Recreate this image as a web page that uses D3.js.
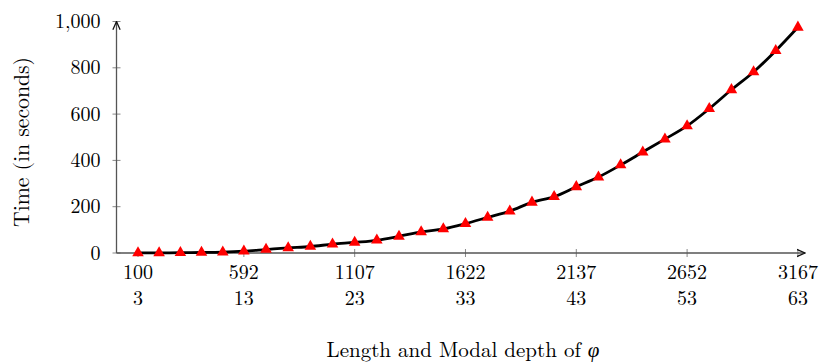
<!DOCTYPE html>
<html>
<head>
<meta charset="utf-8">
<script src="https://cdn.jsdelivr.net/npm/d3@7"></script>
<style>
  html, body { margin: 0; padding: 0; background: #fff; }
  svg { display: block; }
</style>
</head>
<body>
<svg id="chart" width="820" height="362"></svg>
<script>
// ---- data ----
const depths = [3,5,7,9,11,13,15,17,19,21,23,25,27,29,31,33,35,37,39,41,43,45,47,49,51,53,55,57,59,61,63];
const lengths = [100,198,297,395,494,592,695,798,901,1004,1107,1210,1313,1416,1519,1622,1725,1828,1931,2034,2137,2240,2343,2446,2549,2652,2755,2858,2961,3064,3167];
const times = [0.3,0.6,1.2,2.2,4,8,15,22,28,38,46,55,72,91,104,127,154,181,219,243,286,328,380,436,492,549,623,705,782,874,975];
const xTickLengths = [100,592,1107,1622,2137,2652,3167];
const xTickDepths = [3,13,23,33,43,53,63];
const yTicks = [0,200,400,600,800,1000];
const yLabel = "Time (in seconds)";
const xLabel = "Length and Modal depth of ";

// ---- layout ----
const FONT = '"Latin Modern Roman", "Liberation Serif", serif';
const svg = d3.select("#chart");
const x = d3.scaleLinear().domain([0, 3200]).range([116.5, 805]);
const y = d3.scaleLinear().domain([0, 1000]).range([253, 21.5]);
const axisColor = "#555";

const defs = svg.append("defs");
defs.append("marker").attr("id", "arrow")
  .attr("viewBox", "0 0 10 10").attr("refX", 9).attr("refY", 5)
  .attr("markerWidth", 7).attr("markerHeight", 7).attr("orient", "auto")
  .append("path").attr("d", "M0,1 L9,5 L0,9").attr("fill", "none")
  .attr("stroke", "#111").attr("stroke-width", 1.4);

function txt(g, size) {
  return g.append("text").style("font-family", FONT).style("font-size", (size || 20) + "px").attr("fill", "#000");
}
// fit a label's font size so its width matches the reference width
function fit(sel, width) {
  const w = sel.node().getComputedTextLength();
  if (w > 0) sel.style("font-size", (20 * width / w).toFixed(2) + "px");
}

// y ticks
const gy = svg.append("g");
yTicks.forEach(v => {
  gy.append("line").attr("x1", x(0) - 4).attr("x2", x(0) + 4)
    .attr("y1", y(v)).attr("y2", y(v)).attr("stroke", "#888").attr("stroke-width", 1);
  txt(gy).attr("x", 100.5).attr("y", y(v)).attr("dy", "0.33em")
    .attr("text-anchor", "end").text(d3.format(",")(v));
});

// x ticks
const gx = svg.append("g");
xTickLengths.forEach((v, i) => {
  gx.append("line").attr("x1", x(v)).attr("x2", x(v))
    .attr("y1", y(0) - 4).attr("y2", y(0) + 4).attr("stroke", "#888").attr("stroke-width", 1);
  txt(gx).attr("x", x(v)).attr("y", 278.5).attr("text-anchor", "middle").text(v);
  txt(gx).attr("x", x(v)).attr("y", 305).attr("text-anchor", "middle").text(xTickDepths[i]);
});

// axis lines
svg.append("line").attr("x1", x(0)).attr("x2", x(0)).attr("y1", y(0)).attr("y2", y(1000))
  .attr("stroke", axisColor).attr("stroke-width", 1.3).attr("marker-end", "url(#arrow)");
svg.append("line").attr("x1", x(0)).attr("x2", x(3200)).attr("y1", y(0)).attr("y2", y(0))
  .attr("stroke", axisColor).attr("stroke-width", 1.3).attr("marker-end", "url(#arrow)");

// data
const data = lengths.map((l, i) => ({ l, d: depths[i], t: times[i] }));
const line = d3.line().x(d => x(d.l)).y(d => y(d.t)).curve(d3.curveCatmullRom.alpha(0.5));
svg.append("path").datum(data).attr("d", line).attr("fill", "none")
  .attr("stroke", "#000").attr("stroke-width", 2.8).attr("stroke-linejoin", "round");

const tri = d3.symbol().type(d3.symbolTriangle).size(58);
svg.append("g").selectAll("path").data(data).join("path")
  .attr("d", tri).attr("transform", d => `translate(${x(d.l)},${y(d.t)})`)
  .attr("fill", "#ff0000");

// axis labels
const yl = txt(svg).attr("transform", "translate(29,142) rotate(-90)")
  .attr("text-anchor", "middle").text(yLabel);
fit(yl, 170);

const t = txt(svg).attr("x", 463).attr("y", 357).attr("text-anchor", "middle");
t.append("tspan").text(xLabel);
t.append("tspan").style("font-style", "italic").text("φ");
fit(t, 273);
</script>
</body>
</html>
